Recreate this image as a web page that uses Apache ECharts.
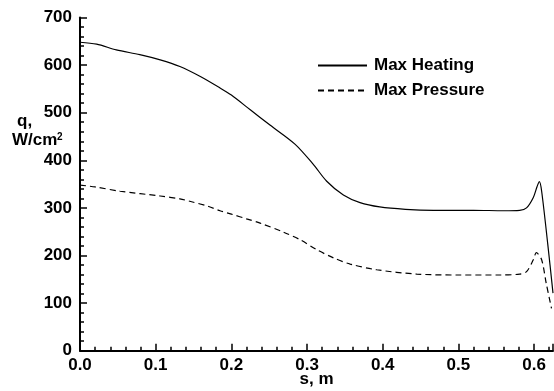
<!DOCTYPE html>
<html>
<head>
<meta charset="utf-8">
<script src="https://cdn.jsdelivr.net/npm/echarts@6/dist/echarts.min.js"></script>
<style>html,body{margin:0;padding:0;background:#fff}#c{width:554px;height:391px}</style>
</head>
<body>
<div id="c"></div>
<script>
var heatS = [0, 0.022, 0.048, 0.079, 0.106, 0.132, 0.159, 0.185, 0.2, 0.225, 0.251, 0.284, 0.308, 0.326, 0.348, 0.37, 0.396, 0.43, 0.467, 0.52, 0.56, 0.581, 0.59, 0.599, 0.604, 0.607, 0.61, 0.618, 0.625];
var heatQ = [648, 644, 632, 622, 611, 597, 576, 552, 537, 506, 474, 434, 392, 356, 327, 311, 302, 297, 295, 295, 294, 295, 300, 322, 345, 355, 335, 225, 121];
var presS = [0, 0.02, 0.053, 0.106, 0.132, 0.145, 0.17, 0.185, 0.2, 0.22, 0.238, 0.269, 0.291, 0.313, 0.335, 0.357, 0.392, 0.445, 0.5, 0.555, 0.581, 0.59, 0.599, 0.603, 0.61, 0.616, 0.623];
var presQ = [348, 344, 335, 325, 319, 314, 303, 294, 287, 277, 268, 249, 233, 212, 195, 182, 170, 161, 159, 159, 161, 166, 191, 206, 191, 142, 89];
var xTicks = [0, 0.1, 0.2, 0.3, 0.4, 0.5, 0.6];
var yTicks = [0, 100, 200, 300, 400, 500, 600, 700];
var seriesNames = ['Max Heating', 'Max Pressure'];

function pairs(s, q) { return s.map(function (v, i) { return [v, q[i]]; }); }

var font = 'Liberation Sans';
var chart = echarts.init(document.getElementById('c'));
chart.setOption({
  animation: false,
  backgroundColor: '#fff',
  grid: { left: 80, right: 1, top: 17.5, bottom: 40.3, containLabel: false, outerBoundsMode: 'none' },
  legend: {
    orient: 'vertical', left: 312, top: 52, itemWidth: 49, itemHeight: 17, itemGap: 8,
    itemStyle: { opacity: 0 },
    textStyle: { fontFamily: font, fontWeight: 'bold', fontSize: 17, color: '#000', padding: [0, 0, 0, 2] },
    data: seriesNames
  },
  xAxis: {
    type: 'value', min: 0, max: 0.625, interval: 0.1,
    axisLine: { show: true, lineStyle: { color: '#000', width: 2 } },
    axisTick: { show: true, inside: true, length: 7, lineStyle: { color: '#000', width: 1.5 } },
    minorTick: { show: true, splitNumber: 5, length: 4, lineStyle: { color: '#000', width: 1.5 } },
    splitLine: { show: false },
    axisLabel: {
      showMaxLabel: false, margin: 6, color: '#000', fontFamily: font, fontWeight: 'bold', fontSize: 17,
      formatter: function (v) { return xTicks.indexOf(Math.round(v * 10) / 10) >= 0 ? v.toFixed(1) : ''; }
    },
    name: 's, m', nameLocation: 'middle', nameGap: 20, nameMoveOverlap: false,
    nameTextStyle: { color: '#000', fontFamily: font, fontWeight: 'bold', fontSize: 17, verticalAlign: 'top' }
  },
  yAxis: {
    type: 'value', min: 0, max: 700, interval: 100,
    axisLine: { show: true, lineStyle: { color: '#000', width: 2 } },
    axisTick: { show: true, inside: true, length: 7, lineStyle: { color: '#000', width: 1.5 } },
    minorTick: { show: true, splitNumber: 5, length: 4, lineStyle: { color: '#000', width: 1.5 } },
    splitLine: { show: false },
    axisLabel: {
      margin: 8, color: '#000', fontFamily: font, fontWeight: 'bold', fontSize: 17,
      formatter: function (v) { return yTicks.indexOf(v) >= 0 ? String(v) : ''; }
    }
  },
  graphic: [
    { type: 'text', left: 17, top: 113, style: { text: 'q,', fill: '#000', font: 'bold 17px "Liberation Sans"' } },
    { type: 'text', left: 12, top: 132, style: { text: 'W/cm', fill: '#000', font: 'bold 17px "Liberation Sans"' } },
    { type: 'text', left: 57, top: 132, style: { text: '2', fill: '#000', font: 'bold 10px "Liberation Sans"' } }
  ],
  series: [
    {
      name: seriesNames[0], type: 'line', data: pairs(heatS, heatQ), showSymbol: false, symbol: 'none',
      smooth: 0.3,
      lineStyle: { color: '#000', width: 1.2, type: 'solid' }, itemStyle: { color: '#000' }
    },
    {
      name: seriesNames[1], type: 'line', data: pairs(presS, presQ), showSymbol: false, symbol: 'none',
      smooth: 0.3,
      lineStyle: { color: '#000', width: 1.2, type: [6, 4] }, itemStyle: { color: '#000' }
    }
  ]
});
</script>
</body>
</html>
